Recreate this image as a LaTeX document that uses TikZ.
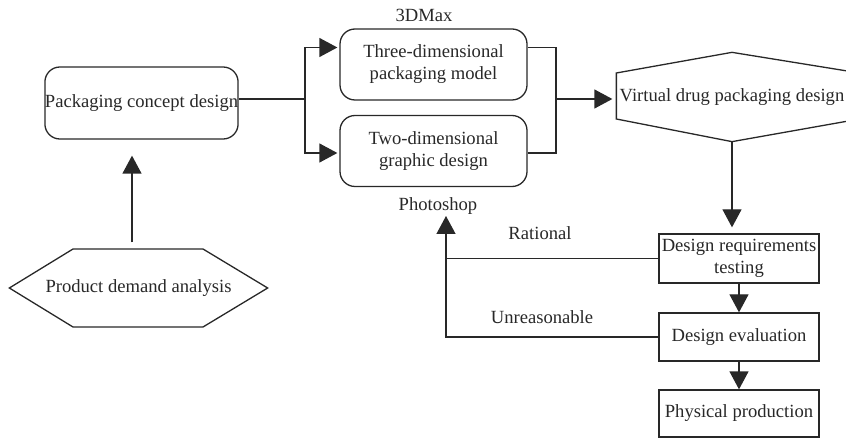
\documentclass[tikz,border=0pt]{standalone}
\usepackage{fontspec}
\setmainfont{Liberation Serif}
\usetikzlibrary{arrows.meta,positioning,calc}
\definecolor{inkgray}{RGB}{40,40,40}

\begin{document}
\begin{tikzpicture}[x=1pt,y=-1pt,line width=1.3pt,color=inkgray,
  every node/.style={font=\fontsize{18.6}{22}\selectfont,text=inkgray},
  roundbox/.style={draw,rounded corners=15pt,minimum width=187pt,minimum height=71pt,align=center,inner sep=0pt},
  stagebox/.style={draw,minimum width=160pt,align=center,inner sep=0pt},
  hexnode/.style={inner sep=0pt,align=center},
  arr/.style={-{Triangle[length=18pt,width=19pt]}}
]
  \clip (0,0) rectangle (846,438);
  % boxes
  \node[roundbox,minimum width=193pt,minimum height=72pt] (concept) at (141.5,103) {Packaging concept design};
  \node[roundbox] (model) at (433.5,64.5) {Three-dimensional\\packaging model};
  \node[roundbox] (graphic) at (433.5,151) {Two-dimensional\\graphic design};
  \node (max) at (424,15) {3DMax};
  \node (photo) at (438,206) {Photoshop};
  \node[hexnode,minimum width=230pt,minimum height=88pt] (vdrug) at (732,97) {Virtual drug packaging design};
  \node[hexnode,minimum width=257pt,minimum height=78pt] (demand) at (138.5,288) {Product demand analysis};
  \node[stagebox,minimum height=49pt] (reqs) at (739,258.5) {Design requirements\\testing};
  \node[stagebox,minimum height=48pt] (eval) at (739,337) {Design evaluation};
  \node[stagebox,minimum height=47pt] (phys) at (739,413.5) {Physical production};
  % hexagon outlines
  \draw (vdrug.west |- 0,73) -- (vdrug.north) -- ([xshift=12pt]vdrug.east |- 0,73) -- ([xshift=12pt]vdrug.east |- 0,119)
    -- (vdrug.south) -- (vdrug.west |- 0,119) -- cycle;
  \draw (demand.west) -- (73,249) -- (203,249) -- (demand.east) -- (203,327) -- (73,327) -- cycle;
  % connectors
  \coordinate (split) at (305,99);
  \coordinate (join) at (556,99);
  \coordinate (back) at (446,216);
  \coordinate (upx) at ([xshift=-9.5pt]concept.south);
  \draw (concept.east |- split) -- (split);
  \draw[arr,shorten >=2pt] (split) |- ([yshift=17pt]model.west);
  \draw[arr,shorten >=2pt] (split) |- ([yshift=-2pt]graphic.west);
  \draw ([yshift=17pt]model.east) -| (join) |- ([yshift=-2pt]graphic.east);
  \draw[arr,shorten >=4pt] (join) -- (join -| vdrug.west);
  \draw[arr,shorten <=6pt,shorten >=16pt] (upx |- demand.north) -- (upx);
  \draw[arr,shorten >=6pt] (vdrug.south) -- (vdrug.south |- reqs.north);
  \draw[arr] (reqs.south) -- (eval.north);
  \draw[arr] (eval.south) -- (phys.north);
  \draw (reqs.west) -- (reqs.west -| back);
  \draw[arr] (eval.west) -| (back);
  \node (rational) at (540,233) {Rational};
  \node (unreason) at (542,317) {Unreasonable};
\end{tikzpicture}
\end{document}
